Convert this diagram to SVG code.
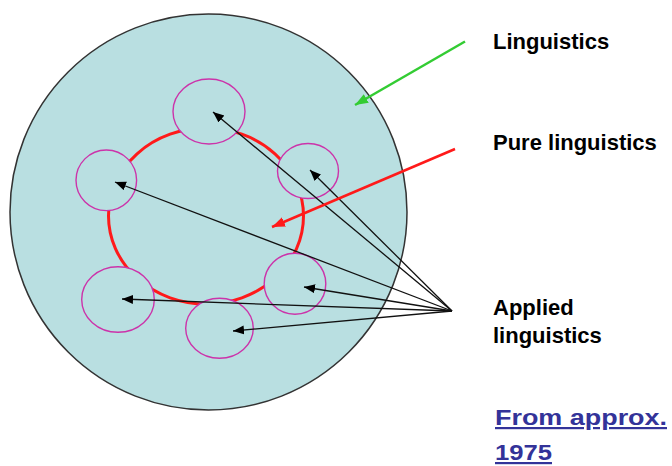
<svg xmlns="http://www.w3.org/2000/svg" width="672" height="466" viewBox="0 0 672 466">
  <style>
    .label { font-family: "Liberation Sans", Arial, sans-serif; font-weight: bold; font-size: 22px; fill: #000; }
    .date { font-family: "Liberation Sans", Arial, sans-serif; font-weight: bold; font-size: 22px; fill: #333399; text-decoration: underline; }
    .sub { fill: #b9dfe1; stroke: #cc33aa; stroke-width: 1.4; }
    .conn { stroke: #111; stroke-width: 1.3; fill: none; marker-end: url(#ab); }
  </style>
  <defs>
    <marker id="ab" markerUnits="userSpaceOnUse" markerWidth="12" markerHeight="10" refX="11" refY="4.5" orient="auto">
      <path d="M0,0 L11,4.5 L0,9 z" fill="#000"/>
    </marker>
    <marker id="ar" markerUnits="userSpaceOnUse" markerWidth="14" markerHeight="12" refX="13" refY="5" orient="auto">
      <path d="M0,0 L13,5 L0,10 z" fill="#ff1a1a"/>
    </marker>
    <marker id="ag" markerUnits="userSpaceOnUse" markerWidth="14" markerHeight="12" refX="13" refY="5" orient="auto">
      <path d="M0,0 L13,5 L0,10 z" fill="#33cc33"/>
    </marker>
  </defs>

  <g id="linguistics">
    <ellipse cx="208.5" cy="212" rx="198.5" ry="198" fill="#b9dfe1" stroke="#333" stroke-width="1.5"/>
  </g>
  <g id="pure-linguistics">
    <ellipse cx="206" cy="216" rx="97.5" ry="88" fill="none" stroke="#ff1a1a" stroke-width="3"/>
  </g>
  <g id="applied-1"><ellipse class="sub" cx="209" cy="111.5" rx="36" ry="32.5"/></g>
  <g id="applied-2"><ellipse class="sub" cx="308" cy="171" rx="30.5" ry="27.5"/></g>
  <g id="applied-3"><ellipse class="sub" cx="106.3" cy="180.3" rx="30.3" ry="30.3"/></g>
  <g id="applied-4"><ellipse class="sub" cx="118" cy="299.5" rx="36.3" ry="32.8"/></g>
  <g id="applied-5"><ellipse class="sub" cx="219.5" cy="328.3" rx="33.8" ry="30"/></g>
  <g id="applied-6"><ellipse class="sub" cx="295" cy="283.8" rx="30.8" ry="30.5"/></g>

  <g id="connectors">
    <line class="conn" x1="452" y1="311" x2="213" y2="112"/>
    <line class="conn" x1="452" y1="311" x2="310" y2="170"/>
    <line class="conn" x1="452" y1="311" x2="115" y2="182"/>
    <line class="conn" x1="452" y1="311" x2="122" y2="299"/>
    <line class="conn" x1="452" y1="311" x2="233" y2="331"/>
    <line class="conn" x1="452" y1="311" x2="304" y2="287"/>
    <line x1="455" y1="149" x2="272" y2="227" stroke="#ff1a1a" stroke-width="2.5" marker-end="url(#ar)"/>
    <line x1="465" y1="41.5" x2="355" y2="105" stroke="#33cc33" stroke-width="2.5" marker-end="url(#ag)"/>
  </g>

  <g id="labels">
    <text class="label" x="493" y="49">Linguistics</text>
    <text class="label" x="493" y="150">Pure linguistics</text>
    <text class="label" x="493" y="315">Applied</text>
    <text class="label" x="493" y="343">linguistics</text>
    <text class="date" x="495" y="425" textLength="172" lengthAdjust="spacingAndGlyphs">From approx.</text>
    <text class="date" x="495" y="460" textLength="57" lengthAdjust="spacingAndGlyphs">1975</text>
  </g>
</svg>
